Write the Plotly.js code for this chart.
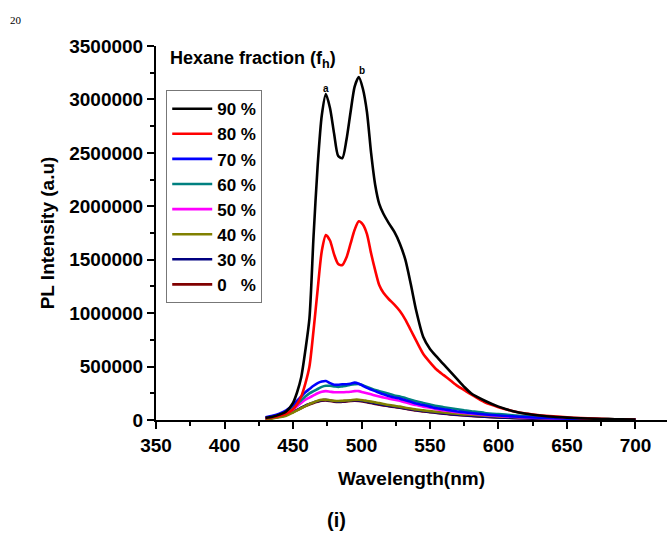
<!DOCTYPE html>
<html>
<head>
<meta charset="utf-8">
<script src="https://cdn.plot.ly/plotly-3.0.1.min.js"></script>
<style>
  html, body { margin: 0; padding: 0; background: #ffffff; }
  #chart { width: 668px; height: 533px; }
</style>
</head>
<body>
<div id="chart"></div>
<script>
// Wavelength (nm)
const wavelength = [430,435,440,445,450,453,456,459,462,465,468,471,474,477,480,483,486,489,492,495,498,501,504,507,510,513,516,520,524,528,532,536,540,545,550,555,560,565,570,575,580,590,600,610,620,630,640,650,660,670,680,690,700];

// PL intensity (a.u.), in millions, per hexane fraction
const f90 = [0.02,0.03,0.05,0.08,0.16,0.26,0.40,0.65,0.95,1.72,2.38,2.85,3.05,2.92,2.68,2.47,2.45,2.62,2.88,3.12,3.21,3.10,2.88,2.50,2.20,2.02,1.93,1.84,1.76,1.65,1.50,1.27,1.02,0.78,0.665,0.59,0.52,0.45,0.38,0.31,0.25,0.18,0.125,0.085,0.058,0.042,0.030,0.022,0.016,0.012,0.008,0.006,0.004];
const f80 = [0.015,0.025,0.04,0.06,0.10,0.15,0.22,0.34,0.50,0.84,1.22,1.58,1.73,1.68,1.55,1.46,1.45,1.52,1.65,1.78,1.86,1.83,1.74,1.56,1.40,1.26,1.19,1.13,1.08,1.02,0.94,0.84,0.74,0.62,0.54,0.47,0.42,0.37,0.32,0.28,0.24,0.165,0.12,0.085,0.06,0.045,0.034,0.025,0.018,0.013,0.009,0.006,0.004];
const f70 = [0.025,0.04,0.06,0.09,0.14,0.18,0.22,0.26,0.29,0.32,0.345,0.36,0.365,0.345,0.33,0.33,0.335,0.335,0.34,0.35,0.34,0.32,0.30,0.285,0.27,0.255,0.24,0.225,0.21,0.20,0.185,0.17,0.155,0.14,0.125,0.11,0.10,0.09,0.08,0.072,0.065,0.052,0.042,0.034,0.027,0.021,0.017,0.013,0.010,0.008,0.006,0.004,0.003];
const f60 = [0.02,0.03,0.05,0.075,0.12,0.15,0.185,0.22,0.25,0.27,0.29,0.31,0.32,0.32,0.315,0.31,0.315,0.32,0.33,0.335,0.337,0.325,0.31,0.295,0.28,0.27,0.26,0.245,0.23,0.22,0.205,0.19,0.175,0.16,0.145,0.13,0.12,0.11,0.10,0.09,0.082,0.066,0.055,0.045,0.036,0.029,0.023,0.018,0.014,0.011,0.008,0.006,0.004];
const f50 = [0.02,0.03,0.045,0.065,0.10,0.13,0.16,0.19,0.21,0.23,0.25,0.265,0.27,0.265,0.26,0.26,0.26,0.262,0.265,0.27,0.27,0.26,0.25,0.24,0.23,0.22,0.21,0.20,0.19,0.18,0.165,0.15,0.14,0.125,0.115,0.10,0.09,0.082,0.073,0.066,0.06,0.048,0.038,0.03,0.024,0.019,0.015,0.012,0.009,0.007,0.005,0.004,0.003];
const f40 = [0.01,0.015,0.025,0.04,0.07,0.09,0.11,0.13,0.15,0.165,0.18,0.19,0.19,0.185,0.18,0.178,0.18,0.182,0.185,0.19,0.19,0.185,0.178,0.172,0.165,0.158,0.15,0.14,0.132,0.125,0.115,0.107,0.098,0.09,0.083,0.076,0.07,0.064,0.058,0.053,0.049,0.041,0.034,0.028,0.023,0.019,0.016,0.013,0.010,0.008,0.006,0.004,0.003];
const f30 = [0.015,0.022,0.032,0.05,0.078,0.095,0.115,0.135,0.15,0.165,0.175,0.185,0.188,0.182,0.175,0.172,0.175,0.178,0.182,0.185,0.183,0.178,0.17,0.163,0.155,0.148,0.14,0.132,0.125,0.117,0.108,0.10,0.092,0.084,0.076,0.068,0.061,0.055,0.049,0.044,0.04,0.032,0.025,0.02,0.016,0.012,0.010,0.008,0.006,0.004,0.003,0.002,0.002];
const f0  = [0.012,0.02,0.03,0.047,0.074,0.092,0.112,0.131,0.146,0.16,0.171,0.18,0.183,0.178,0.171,0.168,0.171,0.174,0.178,0.181,0.179,0.174,0.166,0.159,0.151,0.144,0.137,0.129,0.122,0.114,0.105,0.097,0.089,0.081,0.073,0.066,0.059,0.053,0.047,0.042,0.038,0.030,0.024,0.019,0.015,0.011,0.009,0.007,0.005,0.004,0.003,0.002,0.001];

const seriesNames = ["0\u00a0\u00a0\u00a0%", "30 %", "40 %", "50 %", "60 %", "70 %", "80 %", "90 %"];
const seriesValues = [f0, f30, f40, f50, f60, f70, f80, f90];
const seriesColors = ["#800000", "#000080", "#808000", "#FF00FF", "#008080", "#0000FF", "#FF0000", "#000000"];

const xTicks = [350, 400, 450, 500, 550, 600, 650, 700];
const yTicks = [0, 500000, 1000000, 1500000, 2000000, 2500000, 3000000, 3500000];

const FONT = "Arial, 'Liberation Sans', sans-serif";

const traces = seriesValues.map((vals, i) => ({
  type: "scatter",
  mode: "lines",
  name: seriesNames[i],
  x: wavelength,
  y: vals.map(v => v * 1e6),
  line: { color: seriesColors[i], width: 2.6, shape: "spline", smoothing: 0.7 },
  hoverinfo: "skip"
}));

const layout = {
  width: 668,
  height: 533,
  margin: { l: 156, r: 1, t: 46, b: 113 },
  paper_bgcolor: "#ffffff",
  plot_bgcolor: "#ffffff",
  font: { family: FONT, color: "#000000" },
  showlegend: true,
  legend: {
    x: 0.02, y: 0.882, xanchor: "left", yanchor: "top",
    traceorder: "reversed",
    bordercolor: "#777777", borderwidth: 1,
    bgcolor: "rgba(255,255,255,0)",
    font: { family: FONT, size: 17, color: "#000000", weight: "bold" },
    itemwidth: 40,
    tracegroupgap: 0
  },
  xaxis: {
    range: [350, 723],
    tickvals: xTicks,
    ticktext: xTicks.map(String),
    ticks: "outside", ticklen: 7, tickwidth: 2, tickcolor: "#000",
    minor: { dtick: 25, tick0: 325, ticks: "outside", ticklen: 4, tickwidth: 2, tickcolor: "#000" },
    showline: true, linecolor: "#000", linewidth: 2,
    showgrid: false, zeroline: false,
    tickfont: { family: FONT, size: 19, color: "#000", weight: "bold" },
    title: { text: "Wavelength(nm)", font: { family: FONT, size: 19, color: "#000", weight: "bold" }, standoff: 17 }
  },
  yaxis: {
    range: [0, 3500000],
    tickvals: yTicks,
    ticktext: yTicks.map(String),
    ticks: "outside", ticklen: 7, tickwidth: 2, tickcolor: "#000",
    minor: { dtick: 250000, tick0: 0, ticks: "outside", ticklen: 4, tickwidth: 2, tickcolor: "#000" },
    showline: true, linecolor: "#000", linewidth: 2,
    showgrid: false, zeroline: false,
    tickfont: { family: FONT, size: 19, color: "#000", weight: "bold" },
    title: { text: "PL Intensity (a.u)", font: { family: FONT, size: 19, color: "#000", weight: "bold" }, standoff: 10 }
  },
  annotations: [
    { xref: "paper", yref: "paper", x: 0.023, y: 0.965, xanchor: "left", yanchor: "middle",
      text: "Hexane fraction (f<sub>h</sub>)", showarrow: false,
      font: { family: FONT, size: 18, color: "#000", weight: "bold" } },
    { xref: "x", yref: "y", x: 474, y: 3050000, yshift: 6, text: "a", showarrow: false,
      font: { family: FONT, size: 10, color: "#000", weight: "bold" } },
    { xref: "x", yref: "y", x: 500, y: 3210000, yshift: 6, text: "b", showarrow: false,
      font: { family: FONT, size: 10, color: "#000", weight: "bold" } },
    { xref: "paper", yref: "paper", x: -0.29, y: 1.07, xanchor: "left", yanchor: "middle",
      text: "20", showarrow: false,
      font: { family: "'Liberation Serif', 'DejaVu Serif', serif", size: 11, color: "#000" } },
    { xref: "paper", yref: "paper", x: 0.354, y: -0.267, xanchor: "center", yanchor: "middle",
      text: "(i)", showarrow: false,
      font: { family: FONT, size: 20, color: "#000", weight: "bold" } }
  ]
};

Plotly.newPlot("chart", traces, layout, { displayModeBar: false, staticPlot: true });
</script>
</body>
</html>
